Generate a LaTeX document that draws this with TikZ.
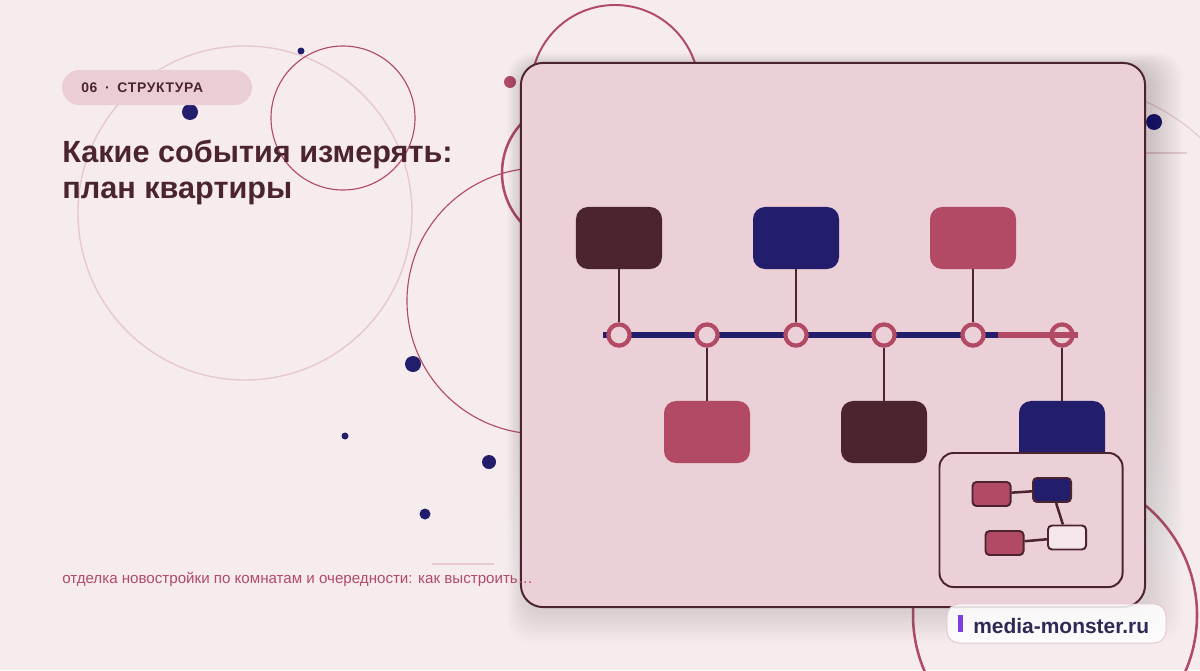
\documentclass[tikz,border=0pt]{standalone}
\usepackage{fontspec}
\setmainfont{Liberation Sans}
\usepackage{tikz}
\usetikzlibrary{positioning}
\definecolor{bgc}{HTML}{F6ECEE}
\definecolor{cardc}{HTML}{ECD0D8}
\definecolor{maroon}{HTML}{4C2430}
\definecolor{navy}{HTML}{231E6B}
\definecolor{rose}{HTML}{B24A66}
\definecolor{blush}{HTML}{E6C8CF}
\definecolor{tagc}{HTML}{EBCDD5}
\definecolor{paper}{HTML}{F4E6EA}
\definecolor{inkc}{HTML}{2E2A55}
\definecolor{violet}{HTML}{7B3FE4}
\definecolor{shade}{HTML}{6E5260}
\tikzstyle{block}=[inner sep=0pt, rounded corners=0.3cm, minimum width=2.15cm, minimum height=1.55cm]
\tikzstyle{mblock}=[block, fill=maroon]
\tikzstyle{nblock}=[block, fill=navy]
\tikzstyle{pblock}=[block, fill=rose]
\tikzstyle{milestone}=[circle, draw=rose, fill=cardc, line width=3pt, inner sep=0pt, minimum size=0.53cm]
\tikzstyle{stem}=[draw=maroon, line width=2pt]
\tikzstyle{card}=[draw=maroon, fill=cardc, line width=1.4pt, rounded corners=0.55cm, minimum width=15.6cm, minimum height=13.6cm, inner sep=0pt]
\tikzstyle{inset}=[card, rounded corners=0.35cm, minimum width=4.575cm, minimum height=3.35cm]
\tikzstyle{mini}=[draw=maroon, line width=1.4pt, rounded corners=0.1cm, minimum width=0.95cm, minimum height=0.6cm, inner sep=0pt]
\tikzstyle{link}=[draw=maroon, line width=1.8pt]
\tikzstyle{tagpill}=[fill=tagc, rounded corners=0.4375cm, minimum width=4.75cm, minimum height=0.875cm, inner sep=0pt]
\tikzstyle{tagtext}=[inner sep=0pt, text=maroon, font=\fontsize{9.9}{12}\selectfont\bfseries\addfontfeatures{LetterSpace=5}]
\tikzstyle{headline}=[inner sep=0pt, text=maroon, font=\fontsize{21.8}{25.5}\selectfont\bfseries]
\tikzstyle{caption}=[inner sep=0pt, text=rose, font=\fontsize{10.75}{13}\selectfont]
\tikzstyle{wmpill}=[draw=blush, fill=white, fill opacity=0.85, line width=0.7pt, rounded corners=0.3cm, minimum width=5.475cm, minimum height=0.975cm, inner sep=0pt]
\tikzstyle{wmtext}=[inner sep=0pt, text=inkc, font=\fontsize{14.9}{18}\selectfont\bfseries]
\tikzstyle{ring}=[draw=rose, line width=0.8pt]

\begin{document}
\begin{tikzpicture}[x=0.025cm, y=-0.025cm]
    \useasboundingbox (0,0) rectangle (1200,670);
    \fill[bgc] (0,0) rectangle (1200,670);
    \clip (0,0) rectangle (1200,670);

    \draw[blush, line width=1pt] (245,213) circle (167);
    \draw[ring] (343,118) circle (72);
    \draw[ring, line width=1.4pt] (615,89) circle (84);
    \draw[ring, line width=1.8pt] (575,173) circle (73);
    \draw[ring] (540,301) circle (133);
    \draw[ring, line width=1.8pt] (1055,615) circle (142);
    \draw[blush, line width=0.8pt] (1060,290) ++(-72:207) arc[start angle=-72, end angle=-40, radius=207];
    \draw[blush, line width=1pt] (1145,153) -- (1187,153);
    \draw[blush, line width=1.4pt] (432,564) -- (494,564);

    \fill[navy] (301,51) circle (3.5);
    \fill[navy] (190,112) circle (8);
    \fill[navy] (413,364) circle (8);
    \fill[navy] (345,436) circle (3.5);
    \fill[navy] (489,462) circle (7);
    \fill[navy] (425,514) circle (5.5);
    \fill[navy] (1154,122) circle (8);
    \fill[rose] (510,82) circle (6);

    \foreach \g in {1,...,14}
        \fill[shade, opacity=0.006, rounded corners=0.6cm] (524-\g*1.2,67-\g) rectangle (1149+\g*2.4,612+\g*2.2);
    \node[card] (card) at (833,335) {};

    \node[mblock] (top1) at (619,238) {};
    \node[nblock] (top2) at (796,238) {};
    \node[pblock] (top3) at (973,238) {};
    \node[pblock] (bot1) at (707,432) {};
    \node[mblock] (bot2) at (884,432) {};
    \node[nblock] (bot3) at (1062,432) {};

    \coordinate (tlstart) at (603,335);
    \coordinate (tlsplit) at (998,335);
    \coordinate (tlend) at (1078,335);
    \draw[navy, line width=4.2pt] (tlstart) -- (tlsplit);
    \node[milestone] (m1) at (619,335) {};
    \node[milestone] (m2) at (707,335) {};
    \node[milestone] (m3) at (796,335) {};
    \node[milestone] (m4) at (884,335) {};
    \node[milestone] (m5) at (973,335) {};
    \node[milestone] (m6) at (1062,335) {};
    \draw[rose, line width=4.2pt] (tlsplit) -- (tlend);
    \draw[stem] (top1) -- (m1);
    \draw[stem] (bot1) -- (m2);
    \draw[stem] (top2) -- (m3);
    \draw[stem] (bot2) -- (m4);
    \draw[stem] (top3) -- (m5);
    \draw[stem] (bot3) -- (m6);

    \node[inset] (inset) at (1031,520) {};
    \node[mini, fill=rose] (mA) at (991.5,494) {};
    \node[mini, fill=navy] (mB) at (1052,490) {};
    \node[mini, fill=paper] (mC) at (1067,537.5) {};
    \node[mini, fill=rose] (mD) at (1004.5,543) {};
    \draw[link] (mA) -- (mB);
    \draw[link] (mB) -- (mC);
    \draw[link] (mD) -- (mC);

    \node[tagpill] (tag) at (157,87.5) {};
    \node[tagtext, anchor=base west] (taglabel) at (81,92) {06\hspace{0.55em}·\hspace{0.55em}СТРУКТУРА};
    \node[headline, anchor=base west] (title1) at (62,162) {Какие события измерять:};
    \node[headline, anchor=base west] (title2) at (62,198) {план квартиры};
    \node[caption, anchor=base west] (lead) at (62,583) {отделка новостройки по комнатам и очередности: как выстроить…};

    \node[wmpill] (wm) at (1056.5,623.5) {};
    \node[fill=violet, inner sep=0pt, minimum width=0.125cm, minimum height=0.425cm] (bar) at (960.5,623.5) {};
    \node[wmtext, anchor=base west] (wmlabel) at (973,633) {media-monster.ru};
\end{tikzpicture}
\end{document}
